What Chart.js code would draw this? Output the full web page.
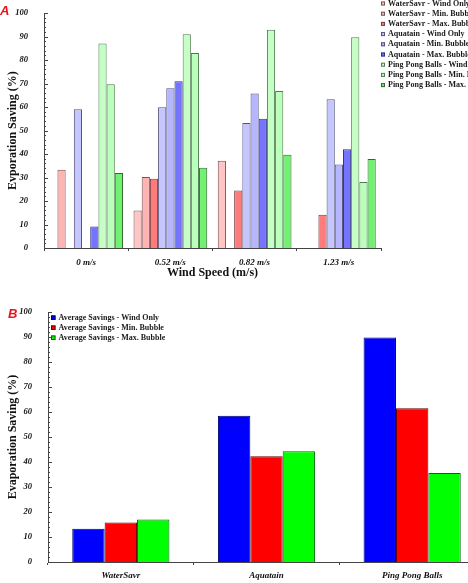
<!DOCTYPE html>
<html><head><meta charset="utf-8">
<script src="https://cdn.jsdelivr.net/npm/chart.js@4/dist/chart.umd.min.js"></script>
<style>
html,body{margin:0;padding:0;background:#fff;overflow:hidden;width:468px;height:583px}
#wrap{position:relative;width:468px;height:583px;overflow:hidden;background:#fff}
#ca{position:absolute;left:0;top:0}
#cb{position:absolute;left:0;top:290px}
.tag{position:absolute;font:italic bold 13px "Liberation Sans",Arial,sans-serif;color:#e8141c;line-height:1}
</style></head>
<body><div id="wrap">
<canvas id="ca" width="468" height="290"></canvas>
<canvas id="cb" width="490" height="293"></canvas>
<div class="tag" style="left:0px;top:4px">A</div>
<div class="tag" style="left:8px;top:307px">B</div>
</div>
<script>
// ---------- DATA (chart A) ----------
const windSpeeds = ['0 m/s', '0.52 m/s', '0.82 m/s', '1.23 m/s'];
const seriesLabelsA = [
  'WaterSavr - Wind Only', 'WaterSavr - Min. Bubble', 'WaterSavr - Max. Bubble',
  'Aquatain - Wind Only', 'Aquatain - Min. Bubble', 'Aquatain - Max. Bubble',
  'Ping Pong Balls - Wind Only', 'Ping Pong Balls - Min. Bubble', 'Ping Pong Balls - Max. Bubble'
];
const waterSavrWind = [null, 16.0, 37.1, null];
const waterSavrMin  = [33.3, 30.2, null, null];
const waterSavrMax  = [null, 29.5, 24.5, 14.2];
const aquatainWind  = [59.1, 59.9, 53.2, 63.3];
const aquatainMin   = [null, 68.0, 65.8, 35.6];
const aquatainMax   = [9.2, 71.0, 55.0, 42.0];
const pingPongWind  = [87.1, 91.0, 92.9, 89.7];
const pingPongMin   = [69.7, 83.0, 66.8, 28.1];
const pingPongMax   = [31.9, 34.2, 39.7, 37.9];

// ---------- DATA (chart B) ----------
const materials = ['WaterSavr', 'Aquatain', 'Ping Pong Balls'];
const seriesLabelsB = ['Average Savings - Wind Only', 'Average Savings - Min. Bubble', 'Average Savings - Max. Bubble'];
const avgWindOnly  = [13.3, 58.5, 89.8];
const avgMinBubble = [15.8, 42.3, 61.5];
const avgMaxBubble = [17.0, 44.3, 35.6];

// ---------- axis ticks ----------
const yMin = 0, yMax = 100, yMajorStep = 10, yMinorStep = 2;

// ---------- styles ----------
const fillA = ['#FFC4C4', '#FFB4B4', '#FF7C7C', '#C6C6FF', '#B6B6FF', '#7474FF', '#C6FFC6', '#BAFFBA', '#70F270'];
const edgeA = ['#7a5050', '#7a5050', '#7a3a3a', '#50507a', '#50507a', '#30307a', '#507a50', '#507a50', '#306a30'];
const fillB = ['#0000FF', '#FF0000', '#00FF00'];
const edgeB = ['#00006a', '#6a0000', '#006a00'];

const serif = "'Liberation Serif','Times New Roman',serif";
const tickFont = {family: serif, size: 8.5, weight: 'bold', style: 'italic'};
const catFont = {family: serif, size: 9, weight: 'bold', style: 'italic'};
const titleFont = {family: serif, size: 12, weight: 'bold'};

const yTicksPlugin = {
  id: 'yMinorTicks',
  afterDraw(chart) {
    const ys = chart.scales.y, ctx = chart.ctx, x0 = chart.chartArea.left;
    ctx.save(); ctx.strokeStyle = '#444'; ctx.lineWidth = 1;
    for (let v = yMin; v <= yMax; v += yMinorStep) {
      const y = Math.round(ys.getPixelForValue(v)) + 0.5;
      const major = v % yMajorStep === 0;
      ctx.beginPath(); ctx.moveTo(x0, y); ctx.lineTo(x0 + (major ? 4 : 2), y); ctx.stroke();
    }
    ctx.restore();
  }
};
const boxLegendPlugin = {
  id: 'boxLegend',
  afterDraw(chart, args, o) {
    const ctx = chart.ctx;
    ctx.save();
    ctx.font = o.font; ctx.textBaseline = 'middle';
    chart.data.datasets.forEach((ds, i) => {
      const y = o.y + i * o.dy;
      ctx.fillStyle = ds.backgroundColor; ctx.fillRect(o.x, y - o.box / 2, o.box, o.box);
      ctx.strokeStyle = ds.borderColor; ctx.lineWidth = 1;
      ctx.strokeRect(o.x + 0.5, y - o.box / 2 + 0.5, o.box - 1, o.box - 1);
      ctx.fillStyle = '#1a1a1a'; ctx.fillText(ds.label, o.x + o.box + o.gap, y);
    });
    ctx.restore();
  }
};

function yAxis(width, title) {
  return {
    min: yMin, max: yMax,
    ticks: {stepSize: yMajorStep, font: tickFont, color: '#111', padding: 8},
    grid: {display: false},
    border: {display: true, color: '#444', width: 1},
    title: {display: true, text: title, font: titleFont, color: '#111', padding: {top: 6, bottom: 0}},
    afterFit: s => { s.width = width; }
  };
}

const seriesA = [waterSavrWind, waterSavrMin, waterSavrMax, aquatainWind, aquatainMin, aquatainMax, pingPongWind, pingPongMin, pingPongMax];
new Chart(document.getElementById('ca'), {
  type: 'bar',
  data: {
    labels: windSpeeds,
    datasets: seriesA.map((d, i) => ({
      label: seriesLabelsA[i], data: d,
      backgroundColor: fillA[i], borderColor: edgeA[i], borderWidth: 1,
      categoryPercentage: 0.875, barPercentage: 1
    }))
  },
  options: {
    responsive: false, animation: false, devicePixelRatio: 1,
    layout: {padding: {left: 0, top: 13, right: 87, bottom: 0}},
    plugins: {legend: {display: false}, tooltip: {enabled: false},
      boxLegend: {x: 381, y: 3.5, dy: 10.2, box: 4, gap: 3, font: "bold 8px 'Liberation Serif', serif"}},
    scales: {
      x: {
        ticks: {font: catFont, color: '#111', padding: 6},
        grid: {display: true, offset: true, drawOnChartArea: false, drawTicks: true, tickLength: 3, color: '#444'},
        border: {display: true, color: '#444', width: 1},
        title: {display: true, text: 'Wind Speed (m/s)', font: titleFont, color: '#111', padding: {top: 0, bottom: 10}},
        afterFit: s => { s.height = 42; }
      },
      y: yAxis(44, 'Evporation Saving (%)')
    }
  },
  plugins: [yTicksPlugin, boxLegendPlugin]
});

const seriesB = [avgWindOnly, avgMinBubble, avgMaxBubble];
new Chart(document.getElementById('cb'), {
  type: 'bar',
  data: {
    labels: materials,
    datasets: seriesB.map((d, i) => ({
      label: seriesLabelsB[i], data: d,
      backgroundColor: fillB[i], borderColor: edgeB[i], borderWidth: 1,
      categoryPercentage: 0.667, barPercentage: 1
    }))
  },
  options: {
    responsive: false, animation: false, devicePixelRatio: 1,
    layout: {padding: {left: 0, top: 22, right: 5, bottom: 0}},
    plugins: {legend: {display: false}, tooltip: {enabled: false},
      boxLegend: {x: 51, y: 27.7, dy: 10, box: 4.5, gap: 3, font: "bold 8px 'Liberation Serif', serif"}},
    scales: {
      x: {
        ticks: {font: catFont, color: '#111', padding: 5},
        grid: {display: true, offset: true, drawOnChartArea: false, drawTicks: true, tickLength: 3, color: '#444'},
        border: {display: true, color: '#444', width: 1},
        afterFit: s => { s.height = 21; }
      },
      y: yAxis(48, 'Evaporation Saving (%)')
    }
  },
  plugins: [yTicksPlugin, boxLegendPlugin]
});
</script>
</body></html>
